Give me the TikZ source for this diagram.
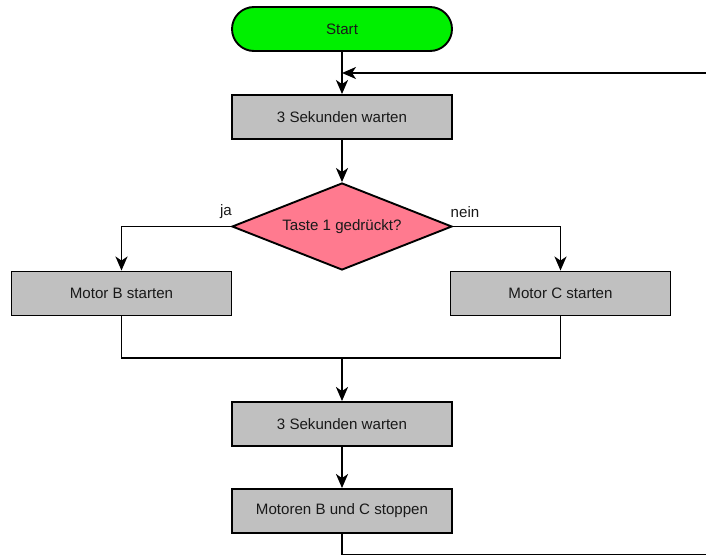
\documentclass[tikz,border=0pt]{standalone}
\usepackage{fontspec}
\setmainfont{Liberation Sans}
\usetikzlibrary{shapes.geometric,arrows.meta}
\definecolor{startgreen}{RGB}{0,240,0}
\definecolor{boxgray}{RGB}{192,192,192}
\definecolor{decpink}{RGB}{255,122,143}
\definecolor{txt}{RGB}{25,25,25}
\tikzset{
  base/.style={draw=black, line width=1.9pt, inner sep=0pt, text=txt, font=\fontsize{15.1}{17}\selectfont},
  procbox/.style={base, rectangle, fill=boxgray, minimum width=220pt, minimum height=44pt},
  startbox/.style={base, rectangle, rounded corners=22pt, fill=startgreen, minimum width=220pt, minimum height=44pt},
  decbox/.style={base, diamond, aspect=2.53, fill=decpink, minimum width=220pt, minimum height=87pt},
  conn/.style={line width=1.9pt, draw=black},
  arr/.style={conn, -{Stealth[length=14pt,width=12pt,inset=4pt]}},
  lbl/.style={text=txt, font=\fontsize{15.1}{17}\selectfont, inner sep=0pt}
}
\begin{document}
\begin{tikzpicture}[x=1pt,y=-1pt]
\useasboundingbox (0,0) rectangle (706,554);
\clip (0,0) rectangle (706,554);
\node[startbox] (start) at (342,29) {Start};
\node[procbox] (w1) at (342,117) {3 Sekunden warten};
\node[decbox] (dec) at (342,226.5) {Taste 1 gedrückt?};
\node[procbox] (mb) at (121.5,293.5) {Motor B starten};
\node[procbox] (mc) at (560.5,293.5) {Motor C starten};
\node[procbox] (w2) at (342,424) {3 Sekunden warten};
\node[procbox] (stop) at (342,511) {Motoren B und C stoppen};
\node[lbl] (ja) at (226,212) {ja};
\node[lbl] (nein) at (465,212) {nein};
\coordinate (loopin) at (342,73);
\coordinate (join) at (342,358);
\coordinate (loopbot) at (342,555.3);
\coordinate (loopcorner) at (722,555.3);
\coordinate (loopright) at (722,73);
\draw[arr] (start) -- (w1);
\draw[arr] (w1) -- (dec);
\draw[arr] (dec.west) -| (mb.north);
\draw[arr] (dec.east) -| (mc.north);
\draw[conn] (mb.south) |- (join);
\draw[conn] (mc.south) |- (join);
\draw[arr] (join) -- (w2);
\draw[arr] (w2) -- (stop);
\draw[conn] (stop.south) -- (loopbot) -- (loopcorner) -- (loopright);
\draw[arr] (loopright) -- (loopin);
\end{tikzpicture}
\end{document}
